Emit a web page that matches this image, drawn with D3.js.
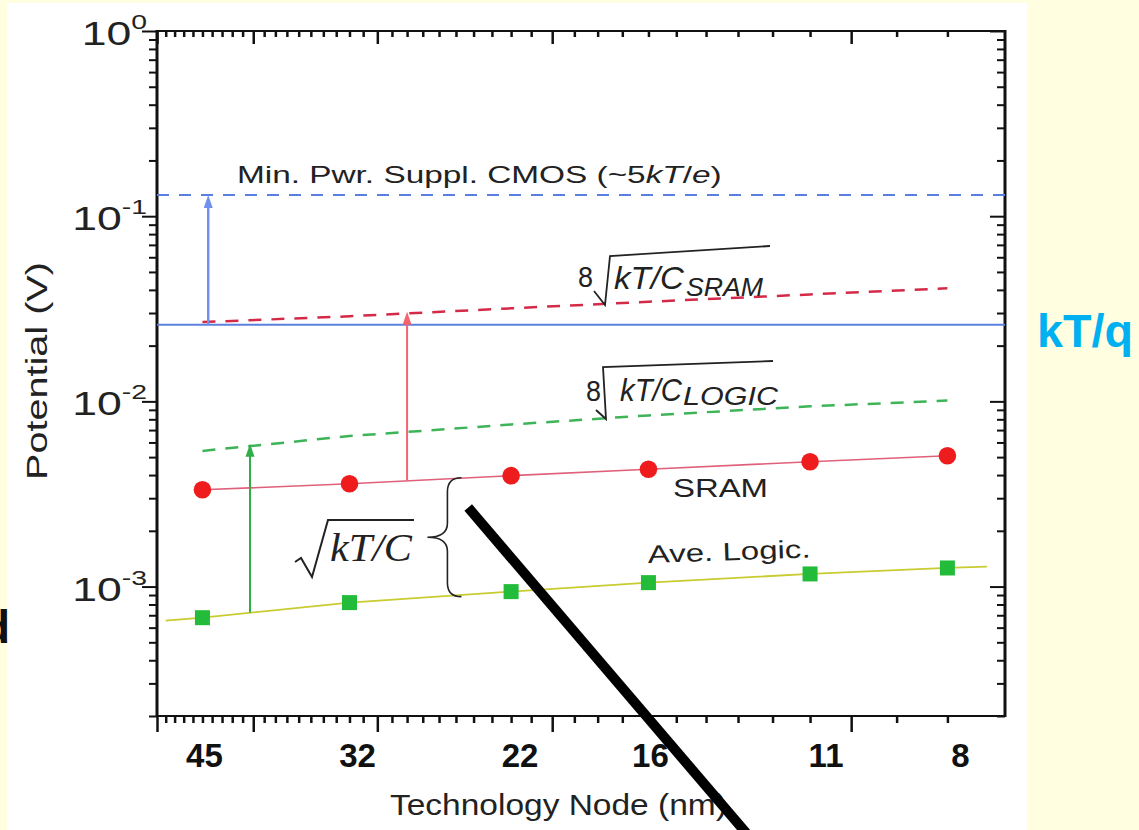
<!DOCTYPE html>
<html><head><meta charset="utf-8">
<script src="https://cdn.jsdelivr.net/npm/d3@7"></script>
<style>html,body{margin:0;padding:0;background:#FFFEE0;} svg{display:block;}</style>
</head><body>
<svg id="chart" width="1139" height="830"></svg>
<script>
// ---------------- data ----------------
const nodes = [45, 32, 22, 16, 11, 8];                 // technology node (nm)
const xTickLabels = ["45", "32", "22", "16", "11", "8"];
const sramNoise = [0.00333, 0.00359, 0.00397, 0.00430, 0.00472, 0.00509];   // sqrt(kT/C) SRAM
const logicNoise = [0.000679, 0.000819, 0.000939, 0.00105, 0.00117, 0.00126]; // sqrt(kT/C) logic
const sramNoise8 = [0.0268, 0.0288, 0.0318, 0.0345, 0.0378, 0.0408];         // 8 sqrt(kT/C_SRAM)
const logicNoise8 = [0.0054, 0.0065, 0.0075, 0.0084, 0.0094, 0.0101];        // 8 sqrt(kT/C_LOGIC)
const logicFitNodes = [49, 7.3];
const logicFitValues = [0.000655, 0.00128];
const thermalVoltage = 0.0259;   // kT/q
const minSupply = 0.13;          // ~5kT/e
const yMajorTicks = [1e-3, 1e-2, 1e-1, 1];
const yTickExponents = ["-3", "-2", "-1", "0"];
const xMajorTicks = [50, 40, 30, 20, 10];
const arrowNodes = [44.4, 28, 40.3];
const arrowFrom = [0.0259, 0.00373, 0.000723];
const arrowTo = [0.13, 0.0305, 0.0059];
const arrowColors = ["#7090f0", "#f2646e", "#2fae4a"];
const braceNode = 25.5;
const braceRange = [0.00387, 0.000882];
const pointerNodes = [24.3, 12.58];
const pointerValues = [0.00267, 4.28e-5];

// ---------------- layout ----------------
const svg = d3.select("#chart");
const L = 157, R = 1005, T = 31, B = 716;
const x = d3.scaleLog().domain([50, 7]).range([L, R]);
const y = d3.scaleLog().domain([2e-4, 1]).range([B, T]);
const FONT = "'Liberation Sans', Arial, sans-serif";
const SERIF = "'Liberation Serif', 'Times New Roman', serif";
const INK = "#222";

// background + white panel
svg.append("rect").attr("width", 1139).attr("height", 830).attr("fill", "#FFFEE0");
svg.append("rect").attr("x", 7).attr("y", 3).attr("width", 1020).attr("height", 827).attr("fill", "#ffffff");

// fitted text helper: draws text at (px,py) and stretches it horizontally to target width
function fitText(g, str, px, py, target, opts = {}) {
  const t = g.append("text").attr("x", 0).attr("y", 0)
    .attr("font-family", opts.family || FONT)
    .attr("font-size", opts.size || 24)
    .attr("font-weight", opts.weight || "normal")
    .attr("font-style", opts.style || "normal")
    .attr("fill", opts.fill || INK)
    .attr("text-anchor", opts.anchor || "start");
  if (Array.isArray(str)) {
    str.forEach(p => t.append("tspan").text(p.t).attr("font-style", p.italic ? "italic" : null));
  } else t.text(str);
  const w = t.node().getComputedTextLength();
  const s = target ? target / w : 1;
  const rot = opts.rotate ? ` rotate(${opts.rotate})` : "";
  t.attr("transform", `translate(${px},${py})${rot} scale(${s},1)`);
  return t;
}

// ---------------- axes ----------------
const yMinor = [];
[1e-4, 1e-3, 1e-2, 1e-1].forEach(d => d3.range(2, 10).forEach(k => {
  const v = d * k; if (v >= 2e-4 && v < 1) yMinor.push(v);
}));
const xMinor = d3.range(7, 51).filter(n => !xMajorTicks.includes(n) && n > 7 && n < 50);

function axisG(axis, tx, ty, sw) {
  const g = svg.append("g").attr("transform", `translate(${tx},${ty})`).call(axis);
  g.select(".domain").remove();
  g.selectAll("text").remove();
  g.selectAll("line").attr("stroke", "#111").attr("stroke-width", sw);
  return g;
}
// left (outward)
axisG(d3.axisLeft(y).tickValues(yMajorTicks).tickSize(15).tickSizeOuter(0), L, 0, 2);
axisG(d3.axisLeft(y).tickValues(yMinor).tickSize(8).tickSizeOuter(0), L, 0, 2);
// right (inward)
axisG(d3.axisRight(y).tickValues(yMajorTicks).tickSize(-15).tickSizeOuter(0), R, 0, 2);
axisG(d3.axisRight(y).tickValues(yMinor).tickSize(-8).tickSizeOuter(0), R, 0, 2);
// top (inward)
axisG(d3.axisTop(x).tickValues(xMajorTicks).tickSize(-13).tickSizeOuter(0), 0, T, 2.5);
axisG(d3.axisTop(x).tickValues(xMinor).tickSize(-6).tickSizeOuter(0), 0, T, 2.5);
// bottom (outward)
axisG(d3.axisBottom(x).tickValues(xMajorTicks).tickSize(16).tickSizeOuter(0), 0, B, 2.5);
axisG(d3.axisBottom(x).tickValues(xMinor).tickSize(7).tickSizeOuter(0), 0, B, 2.5);

// frame
svg.append("line").attr("x1", L).attr("x2", L).attr("y1", T - 1).attr("y2", B + 1).attr("stroke", "#111").attr("stroke-width", 3);
svg.append("line").attr("x1", R).attr("x2", R).attr("y1", T - 1).attr("y2", B + 1).attr("stroke", "#111").attr("stroke-width", 3);
svg.append("line").attr("x1", L).attr("x2", R).attr("y1", T).attr("y2", T).attr("stroke", "#111").attr("stroke-width", 2);
svg.append("line").attr("x1", L).attr("x2", R).attr("y1", B).attr("y2", B).attr("stroke", "#111").attr("stroke-width", 2);

// y tick labels (horizontally stretched like the reference)
yMajorTicks.forEach((v, i) => {
  const t = svg.append("text").attr("x", 0).attr("y", 0)
    .attr("transform", `translate(147,${y(v) + 14}) scale(1.35,1)`)
    .attr("text-anchor", "end").attr("font-family", FONT).attr("fill", INK);
  t.append("tspan").text("10").attr("font-size", 33);
  t.append("tspan").text(yTickExponents[i]).attr("font-size", 21).attr("dy", -16);
});
// x tick labels (bold)
const labelNudge = [2, 8, 9, 2, 16, 13];
nodes.forEach((n, i) => {
  svg.append("text").attr("x", x(n) + labelNudge[i]).attr("y", 767)
    .attr("text-anchor", "middle").attr("font-family", FONT).attr("font-weight", "bold")
    .attr("font-size", 33).attr("fill", "#111").text(xTickLabels[i]);
});
// axis titles
fitText(svg, "Technology Node (nm)", 390, 815, 337, {size: 29});
fitText(svg, "Potential (V)", 47, 371, 218, {size: 30, rotate: -90, anchor: "middle"});

// ---------------- reference lines ----------------
svg.append("line").attr("x1", L).attr("x2", R).attr("y1", y(minSupply)).attr("y2", y(minSupply))
  .attr("stroke", "#5a7fe0").attr("stroke-width", 2).attr("stroke-dasharray", "12,10");
svg.append("line").attr("x1", L).attr("x2", R).attr("y1", y(thermalVoltage)).attr("y2", y(thermalVoltage))
  .attr("stroke", "#5a80e0").attr("stroke-width", 2);

const line = d3.line().x(d => x(d[0])).y(d => y(d[1]));
svg.append("path").datum(nodes.map((n, i) => [n, sramNoise8[i]])).attr("d", line)
  .attr("fill", "none").attr("stroke", "#d42a48").attr("stroke-width", 2.5).attr("stroke-dasharray", "13,10");
svg.append("path").datum(nodes.map((n, i) => [n, logicNoise8[i]])).attr("d", line)
  .attr("fill", "none").attr("stroke", "#3db458").attr("stroke-width", 2.5).attr("stroke-dasharray", "13,10");

// data lines
svg.append("path").datum(nodes.map((n, i) => [n, sramNoise[i]])).attr("d", line)
  .attr("fill", "none").attr("stroke", "#e0607a").attr("stroke-width", 1.6);
const logicLine = [[logicFitNodes[0], logicFitValues[0]], ...nodes.map((n, i) => [n, logicNoise[i]]), [logicFitNodes[1], logicFitValues[1]]];
svg.append("path").datum(logicLine).attr("d", line)
  .attr("fill", "none").attr("stroke", "#c8cc30").attr("stroke-width", 1.8);

// arrows
arrowNodes.forEach((n, i) => {
  const ax = x(n), y0 = y(arrowFrom[i]), y1 = y(arrowTo[i]);
  svg.append("line").attr("x1", ax).attr("x2", ax).attr("y1", y0).attr("y2", y1 + 10)
    .attr("stroke", arrowColors[i]).attr("stroke-width", i === 0 ? 2.5 : 2);
  svg.append("path").attr("d", `M${ax},${y1} L${ax - 4.5},${y1 + 13} L${ax + 4.5},${y1 + 13} Z`)
    .attr("fill", arrowColors[i]);
});

// markers
svg.append("g").selectAll("circle").data(nodes).join("circle")
  .attr("cx", d => x(d)).attr("cy", (d, i) => y(sramNoise[i])).attr("r", 8.8).attr("fill", "#ee1c1c");
svg.append("g").selectAll("rect").data(nodes).join("rect")
  .attr("x", d => x(d) - 7.5).attr("y", (d, i) => y(logicNoise[i]) - 7.5)
  .attr("width", 15).attr("height", 15).attr("fill", "#22bb3a");

// ---------------- annotations ----------------
fitText(svg, ["Min. Pwr. Suppl. CMOS (~5", {t: "kT", italic: true}, "/", {t: "e", italic: true}, ")"].map(p => typeof p === "string" ? {t: p} : p), 237, 183, 485, {size: 24});
fitText(svg, "SRAM", 673, 497, 95, {size: 25});
fitText(svg, "Ave. Logic.", 648, 563, 163, {size: 25, rotate: -2});
fitText(svg, "kT/q", 1037, 347, 96, {size: 46, weight: "bold", fill: "#00b0f0"});
svg.append("text").attr("x", 10).attr("y", 643).attr("text-anchor", "end").attr("font-family", FONT)
  .attr("font-weight", "bold").attr("font-size", 46).attr("fill", "#111").text("d");

// 8 sqrt(kT/C_SRAM)
fitText(svg, "8", 578, 287, 15, {size: 29});
svg.append("path").attr("d", "M594,291 L605,305 L610,256 L770,246").attr("fill", "none").attr("stroke", INK).attr("stroke-width", 1.8);
fitText(svg, "kT/C", 614, 289, 70, {size: 31, style: "italic"});
fitText(svg, "SRAM", 686, 296, 77, {size: 26, style: "italic"});
// 8 sqrt(kT/C_LOGIC)
fitText(svg, "8", 586, 401, 15, {size: 29});
svg.append("path").attr("d", "M596,410 L606,419 L603,367 L773,361").attr("fill", "none").attr("stroke", INK).attr("stroke-width", 1.8);
fitText(svg, "kT/C", 620, 401, 62, {size: 31, style: "italic"});
fitText(svg, "LOGIC", 683, 405, 95, {size: 26, style: "italic"});

// sqrt(kT/C) big label
svg.append("path").attr("d", "M295,562 L301,558 L312,577 L328,520 L414,520").attr("fill", "none").attr("stroke", INK).attr("stroke-width", 2);
fitText(svg, "kT/C", 330, 561, 82, {size: 40, style: "italic", family: SERIF});

// curly brace
(function () {
  const xs = x(braceNode), yt = y(braceRange[0]), yb = y(braceRange[1]), ym = (yt + yb) / 2;
  const w = 14, tip = 20, r = 14;
  const d = `M${xs + w},${yt} Q${xs},${yt} ${xs},${yt + r} L${xs},${ym - r} Q${xs},${ym} ${xs - tip},${ym}` +
    ` Q${xs},${ym} ${xs},${ym + r} L${xs},${yb - r} Q${xs},${yb} ${xs + w},${yb}`;
  svg.append("path").attr("d", d).attr("fill", "none").attr("stroke", INK).attr("stroke-width", 1.6);
})();

// thick pointer line
svg.append("line").attr("x1", x(pointerNodes[0])).attr("y1", y(pointerValues[0]))
  .attr("x2", x(pointerNodes[1])).attr("y2", y(pointerValues[1]))
  .attr("stroke", "#000").attr("stroke-width", 10).attr("stroke-linecap", "butt");
</script>
</body></html>
